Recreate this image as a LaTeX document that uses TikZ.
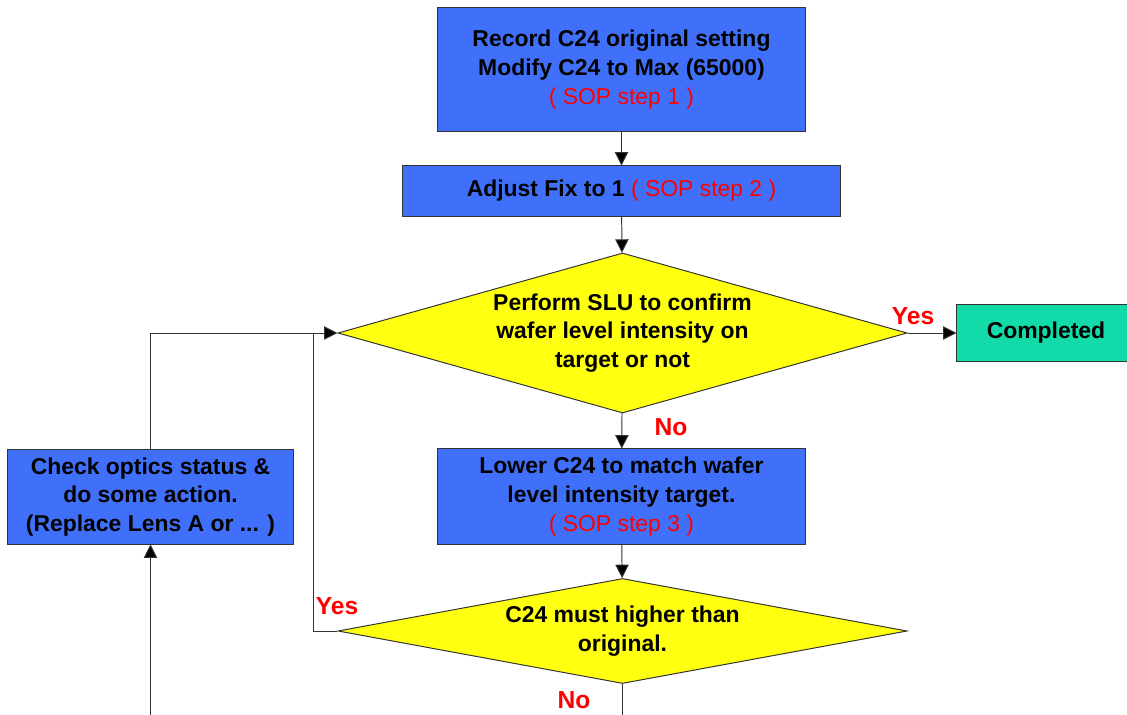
\documentclass[tikz,border=0pt]{standalone}
\usepackage{fontspec}
\setmainfont{Liberation Sans}
\usetikzlibrary{shapes.geometric,arrows.meta}
\definecolor{boxblue}{RGB}{64,112,250}
\definecolor{decyellow}{RGB}{255,255,16}
\definecolor{donegreen}{RGB}{18,218,168}
\tikzset{
	procbox/.style={draw=black!80, line width=0.7pt, fill=boxblue, align=center, inner sep=2pt,
		font=\fontsize{16.3}{20.5}\selectfont\bfseries},
	decide/.style={diamond, draw=black!80, line width=0.7pt, fill=decyellow, align=center, inner sep=0pt,
		font=\fontsize{16.3}{20.5}\selectfont\bfseries},
	donebox/.style={procbox, fill=donegreen},
	arr/.style={line width=0.7pt, draw=black!80, -{Triangle[length=9.5pt,width=9.5pt,fill=black]}},
	wire/.style={line width=0.7pt, draw=black!80},
	lbl/.style={text=red, font=\fontsize{17.5}{20}\selectfont\bfseries, inner sep=0pt}
}
\newcommand{\sopstep}[1]{\textcolor{red}{\mdseries ( SOP step #1 )}}

\begin{document}
\begin{tikzpicture}[x=0.025cm, y=-0.025cm]
			%%%%% START %%%%%
			\useasboundingbox (0,0) rectangle (1127,715);
			\clip (0,0) rectangle (1127,715);
			
			\node[procbox, minimum width=9.175cm, minimum height=3.075cm] (rec) at (621.5,69.5)
				{Record C24 original setting\\Modify C24 to Max (65000)\\\sopstep{1}};
			\node[procbox, minimum width=10.925cm, minimum height=1.25cm] (fix) at (621.5,191)
				{Adjust Fix to 1 \sopstep{2}};
			\node[decide, minimum width=14.225cm, minimum height=4cm, aspect=3.56] (slu) at (622.5,333)
				{Perform SLU to confirm\\wafer level intensity on\\target or not};
			\node[donebox, minimum width=4.45cm, minimum height=1.4cm] (done) at (1046,333) {Completed};
			\node[procbox, minimum width=9.175cm, minimum height=2.375cm] (lower) at (621.5,496.5)
				{Lower C24 to match wafer\\level intensity target.\\\sopstep{3}};
			\node[decide, minimum width=14.225cm, minimum height=2.625cm, aspect=5.4] (high) at (622.5,631)
				{C24 must higher than\\original.};
			\node[procbox, minimum width=7.125cm, minimum height=2.35cm] (chk) at (150.5,497)
				{Check optics status \&\\do some action.\\(Replace Lens A or ... )};
			
			\coordinate (jn) at (313,333);
			\coordinate (hout) at (622.5,730);
			\coordinate (cin) at (150.5,730);
			
			\draw[arr] (rec) -- (fix);
			\draw[arr] (fix) -- (slu);
			\draw[arr] (slu) -- (done);
			\draw[arr] (slu) -- (lower);
			\draw[arr] (lower) -- (high);
			\draw[wire] (high.south) -- (hout);
			\draw[wire] (high.west) -| (jn);
			\draw[arr] (chk.north) |- (slu.west);
			\draw[arr] (cin) -- (chk.south);
			
			\node[lbl] (yes1) at (913,316) {Yes};
			\node[lbl] (no1) at (671,427) {No};
			\node[lbl] (yes2) at (337,606) {Yes};
			\node[lbl] (no2) at (574,700) {No};
			
			%%%%% END %%%%%
		\end{tikzpicture}
\end{document}
